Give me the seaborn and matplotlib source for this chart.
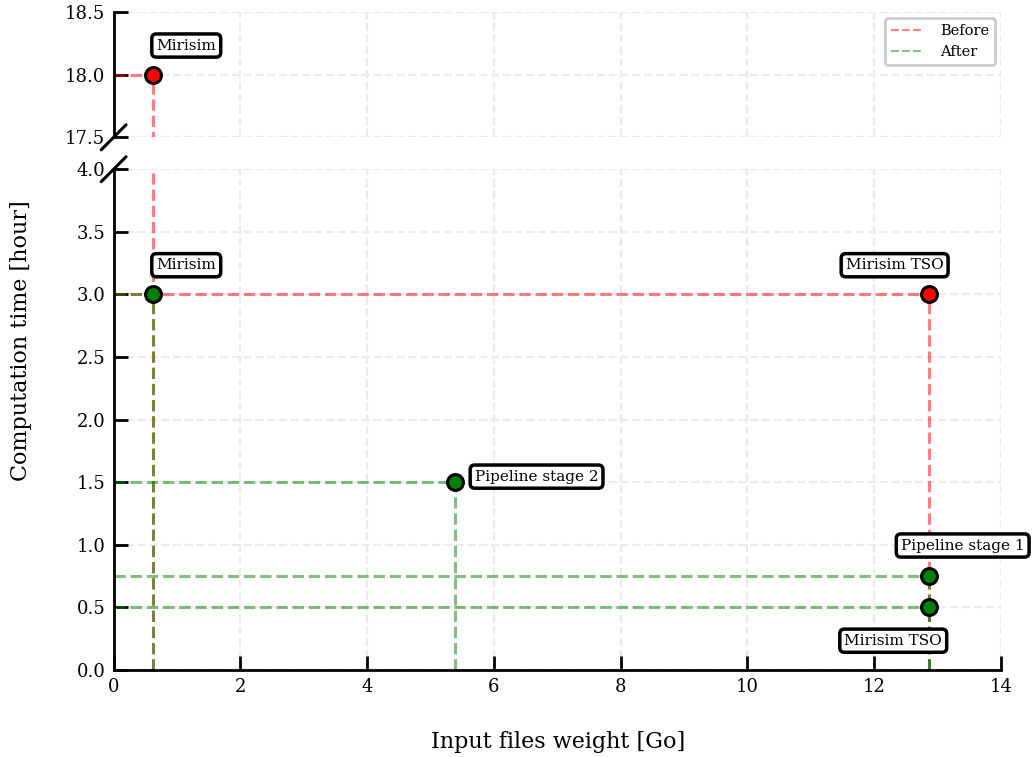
import matplotlib
matplotlib.use("Agg")
import matplotlib.pyplot as plt
from matplotlib.lines import Line2D
import seaborn as sns
import pandas as pd

# Before optimisation
before_names = ['Mirisim', 'Mirisim TSO']
before_size = [0.62, 12.87]
before_time = [18.0, 3.0]

# After optimisation
after_names = ['Mirisim', 'Mirisim TSO', 'Pipeline stage 1', 'Pipeline stage 2']
after_size = [0.62, 12.87, 12.87, 5.38]
after_time = [3.0, 0.5, 0.75, 1.5]

df_before = pd.DataFrame({'size': before_size, 'time': before_time, 'name': before_names})
df_after = pd.DataFrame({'size': after_size, 'time': after_time, 'name': after_names})

sns.set_style("white")
plt.rcParams['font.family'] = ['DejaVu Serif']
plt.rcParams['text.color'] = 'black'
plt.rcParams['xtick.color'] = 'black'
plt.rcParams['ytick.color'] = 'black'
plt.rcParams['axes.labelcolor'] = 'black'

fig, (ax_top, ax_bot) = plt.subplots(2, 1, sharex=True, figsize=(10.33, 7.57), dpi=100,
                                     gridspec_kw={'height_ratios': [1, 4]})
fig.subplots_adjust(left=0.110, right=0.969, bottom=0.115, top=0.984, hspace=0.102)

bbox = dict(boxstyle='round,pad=0.3', fc='white', ec='black', lw=2.5)

for ax in (ax_top, ax_bot):
    # guide lines from axes to each point
    for x, y in zip(df_before['size'], df_before['time']):
        ax.plot([0, x], [y, y], ls='--', color='red', alpha=0.5, lw=2.2, zorder=2)
        ax.plot([x, x], [0, y], ls='--', color='red', alpha=0.5, lw=2.2, zorder=2)
    for x, y in zip(df_after['size'], df_after['time']):
        ax.plot([0, x], [y, y], ls='--', color='green', alpha=0.5, lw=2.2, zorder=2)
        ax.plot([x, x], [0, y], ls='--', color='green', alpha=0.5, lw=2.2, zorder=2)
    sns.scatterplot(data=df_before, x='size', y='time', ax=ax, color='red', s=130,
                    edgecolor='black', linewidth=2.2, zorder=4, legend=False)
    sns.scatterplot(data=df_after, x='size', y='time', ax=ax, color='green', s=130,
                    edgecolor='black', linewidth=2.2, zorder=4, legend=False)
    ax.grid(True, ls='--', color='#ebebeb', lw=1.6, zorder=0)
    ax.set_axisbelow(True)
    ax.tick_params(direction='in', length=10, width=2, labelsize=13, pad=6,
                   left=True, bottom=True, color='black', labelcolor='black')
    for s in ['top', 'right']:
        ax.spines[s].set_visible(False)
    for s in ['left', 'bottom']:
        ax.spines[s].set_linewidth(2)
        ax.spines[s].set_color('black')
    ax.set_xlabel('')
    ax.set_ylabel('')

ax_top.set_ylim(17.5, 18.5)
ax_top.set_yticks([17.5, 18.0, 18.5])
ax_top.spines['bottom'].set_visible(False)
ax_top.tick_params(axis='x', which='both', bottom=False, labelbottom=False)

ax_bot.set_ylim(0, 4.0)
ax_bot.set_yticks([0.0, 0.5, 1.0, 1.5, 2.0, 2.5, 3.0, 3.5, 4.0])
ax_bot.set_xlim(0, 14)
ax_bot.set_xticks(range(0, 15, 2))

# broken axis marks
dx = 0.014
kw = dict(color='black', clip_on=False, lw=2.2)
ax_top.plot((-dx, dx), (-0.1, 0.1), transform=ax_top.transAxes, **kw)
ax_bot.plot((-dx, dx), (1 - 0.025, 1 + 0.025), transform=ax_bot.transAxes, **kw)

# labels
akw = dict(textcoords='offset points', fontsize=11, bbox=bbox, zorder=5, va='center', ha='center')
ax_top.annotate('Mirisim', (0.62, 18.0), xytext=(24, 21), **akw)
ax_bot.annotate('Mirisim', (0.62, 3.0), xytext=(24, 21), **akw)
ax_bot.annotate('Mirisim TSO', (12.87, 3.0), xytext=(-25, 21), **akw)
ax_bot.annotate('Pipeline stage 2', (5.38, 1.5), xytext=(59, 4), **akw)
ax_bot.annotate('Pipeline stage 1', (12.87, 0.75), xytext=(24, 22), **akw)
ax_bot.annotate('Mirisim TSO', (12.87, 0.5), xytext=(-26, -24), **akw)

# legend
handles = [Line2D([], [], ls='--', color='red', alpha=0.5, lw=1.5),
           Line2D([], [], ls='--', color='green', alpha=0.5, lw=1.5)]
leg = ax_top.legend(handles, ['Before', 'After'], loc='upper right', fontsize=10.5,
                    frameon=True, fancybox=True, framealpha=1, handlelength=2.2,
                    handletextpad=1.2, borderaxespad=0.4)
leg.get_frame().set_edgecolor('#cccccc')
leg.get_frame().set_linewidth(2)

fig.text(0.02, 0.55, 'Computation time [hour]', rotation=90, va='center', ha='center', fontsize=16)
fig.text(0.54, 0.02, 'Input files weight [Go]', va='center', ha='center', fontsize=16)

fig.savefig('out.png', dpi=100)
